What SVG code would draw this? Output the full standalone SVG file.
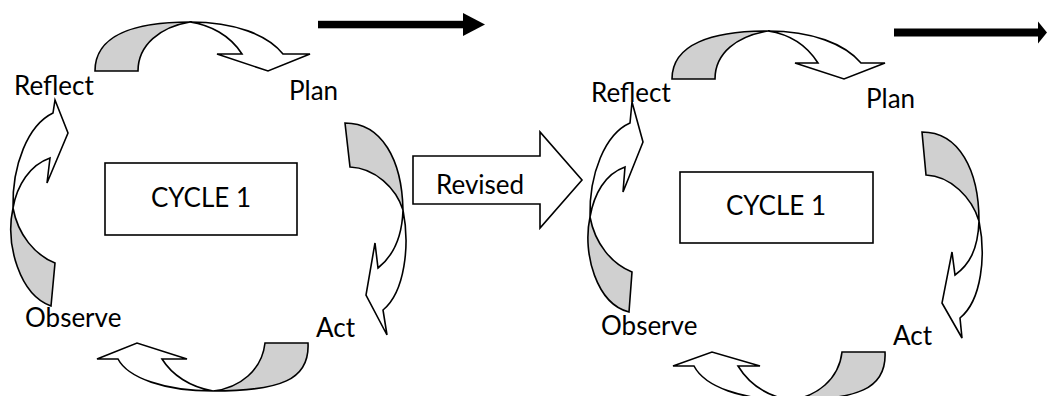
<svg xmlns="http://www.w3.org/2000/svg" width="1049" height="396" viewBox="0 0 1049 396">
<style>
.lbl{font-family:Lato,"Open Sans","Liberation Sans",sans-serif;font-size:26px;fill:#000}
.gray{fill:#d0d0d0;stroke:#000;stroke-width:1.6;stroke-linejoin:miter}
.front{fill:#fff;stroke:#000;stroke-width:1.6;stroke-linejoin:miter}
.box{fill:#fff;stroke:#000;stroke-width:1.6}
.blk{fill:#000}
</style>
<defs>
<clipPath id="revClip"><rect x="413" y="150" width="130" height="44.5"/></clipPath>
</defs>
<rect width="1049" height="396" fill="#fff"/>

<g id="connectors">
  <g id="c1-top">
    <path class="gray" d="M95,71 C95,35 135,22 190,22 C160,27 138,45 138,71 Z"/>
    <path class="front" d="M190,22 C235,22 268,35 283,54 L310,54 L268,71 L217,54 L242,54 C230,35 210,25 190,22 Z"/>
  </g>
  <g id="c1-right">
    <path class="gray" d="M345,123 C382,123 402,160 403,210 C396,188 375,168 350,167 Z"/>
    <path class="front" d="M403,210 C410,245 405,292 383,310 L387,335 L366,295 L375,243 L378,268 C392,257 402,240 403,210 Z"/>
  </g>
  <g id="c1-bottom">
    <path class="gray" d="M308,343 C310,380 280,391 213,391 C240,388 262,370 265,343 Z"/>
    <path class="front" d="M213,391 C165,391 128,378 118,359 L97,359 L137,343 L187,359 L162,359 C172,375 190,387 213,391 Z"/>
  </g>
  <g id="c1-left">
    <path class="gray" d="M13,208 C5,245 20,295 51,306 L55,263 C35,255 18,235 13,208 Z"/>
    <path class="front" d="M13,208 C12,165 28,125 53,113 L55,100 L68,133 L47,183 L50,158 C30,165 17,185 13,208 Z"/>
  </g>
  <g id="c2-top">
    <path class="gray" d="M672,79 C672,44 712,31 768,31 C737,36 715,53 715,79 Z"/>
    <path class="front" d="M768,31 C812,31 845,44 861,63 L885,63 L844,79 L795,63 L818,63 C806,44 788,34 768,31 Z"/>
  </g>
  <g id="c2-right">
    <path class="gray" d="M922,132 C959,132 979,170 979,221 C972,198 951,176 926,175 Z"/>
    <path class="front" d="M979,221 C986,255 982,300 960,318 L962,338 L942,303 L952,252 L955,275 C969,265 978,250 979,221 Z"/>
  </g>
  <g id="c2-bottom">
    <path class="gray" d="M885,352 C887,389 857,400 790,400 C817,397 839,379 842,352 Z"/>
    <path class="front" d="M790,400 C742,400 705,387 694,366 L673,366 L712,352 L760,366 L738,366 C749,384 767,396 790,400 Z"/>
  </g>
  <g id="c2-left">
    <path class="gray" d="M590,217 C582,254 597,304 629,312 L632,272 C612,264 595,244 590,217 Z"/>
    <path class="front" d="M590,217 C589,174 605,134 630,123 L632,102 L643,142 L623,192 L625,167 C605,174 594,194 590,217 Z"/>
  </g>
  <g id="black-arrow-1">
    <rect class="blk" x="318" y="20.8" width="146" height="7.5"/>
    <polygon class="blk" points="463,13 485,24.5 463,36"/>
  </g>
  <g id="black-arrow-2">
    <rect class="blk" x="894" y="28.5" width="145" height="8"/>
    <polygon class="blk" points="1038,21.5 1047,32.5 1038,43.5"/>
  </g>
</g>

<g id="revised">
  <polygon class="box" points="413,156 540,156 540,132 582,180 540,228 540,204 413,204"/>
  <text class="lbl" x="436" y="194" clip-path="url(#revClip)">Revised</text>
</g>

<g id="c1-box">
  <rect class="box" x="105" y="163" width="192" height="72"/>
  <text class="lbl" x="201" y="207" text-anchor="middle">CYCLE 1</text>
</g>
<g id="c1-reflect"><text class="lbl" x="14" y="95">Reflect</text></g>
<g id="c1-plan"><text class="lbl" x="289" y="100">Plan</text></g>
<g id="c1-act"><text class="lbl" x="316" y="337">Act</text></g>
<g id="c1-observe"><text class="lbl" x="25" y="327">Observe</text></g>

<g id="c2-box">
  <rect class="box" x="680" y="172" width="193" height="71"/>
  <text class="lbl" x="776" y="215" text-anchor="middle">CYCLE 1</text>
</g>
<g id="c2-reflect"><text class="lbl" x="591" y="102">Reflect</text></g>
<g id="c2-plan"><text class="lbl" x="866" y="108">Plan</text></g>
<g id="c2-act"><text class="lbl" x="893" y="345">Act</text></g>
<g id="c2-observe"><text class="lbl" x="601" y="335">Observe</text></g>
</svg>
